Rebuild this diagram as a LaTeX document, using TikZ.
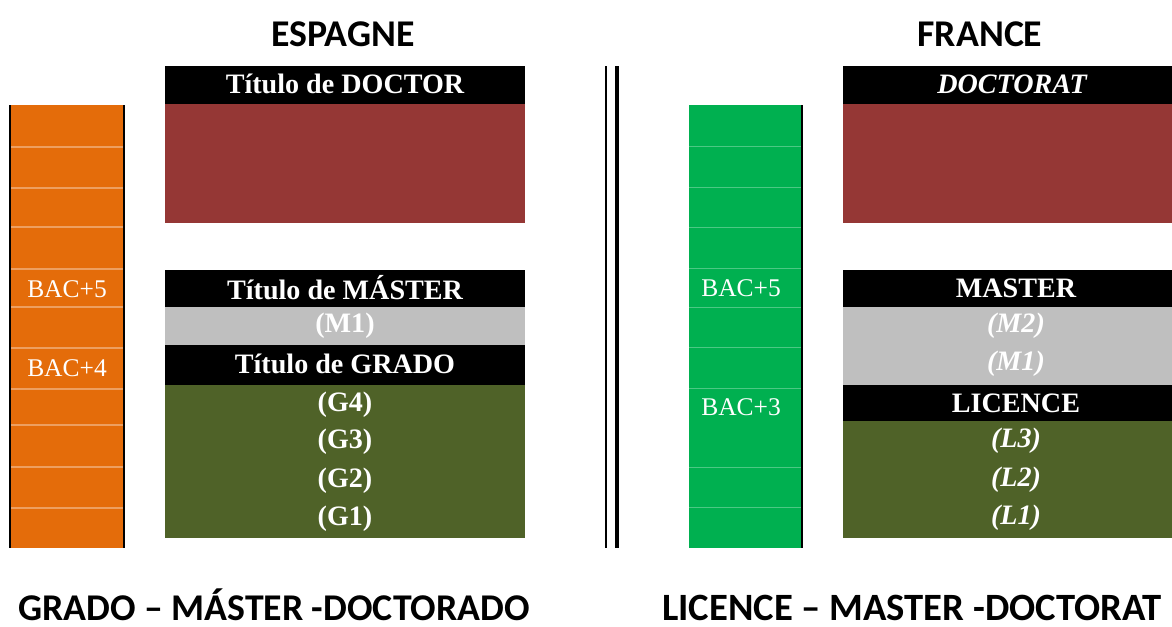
\documentclass[tikz,border=0pt]{standalone}
\usepackage{fontspec}
\setmainfont{Liberation Serif}
\newfontfamily\headfont{Carlito}
\definecolor{espcol}{HTML}{E46C0A}
\definecolor{fracol}{HTML}{00B050}
\definecolor{doccol}{HTML}{953735}
\definecolor{mascol}{HTML}{BFBFBF}
\definecolor{grecol}{HTML}{4F6228}
\begin{document}
\begin{tikzpicture}[x=0.02cm,y=-0.02cm]
	\tikzset{
		title/.style={text=white, inner sep=0pt, font=\bfseries\fontsize{16}{18}\selectfont},
		year/.style={text=white, inner sep=0pt, font=\bfseries\fontsize{16}{18}\selectfont},
		bac/.style={text=white, inner sep=0pt, font=\fontsize{14.5}{16}\selectfont},
		head/.style={inner sep=0pt, font=\headfont\bfseries\fontsize{21.5}{24}\selectfont},
		espline/.style={color=espcol!65!white, line width=0.7pt},
		fraline/.style={color=fracol!70!white, line width=0.5pt}
	}
	\useasboundingbox (0,0) rectangle (1172,626);

	% Spain column
	\fill[espcol] (10,105) rectangle (124,548);
	\draw[espline] (10,147) -- (124,147);
	\draw[espline] (10,188) -- (124,188);
	\draw[espline] (10,227) -- (124,227);
	\draw[espline] (10,269) -- (124,269);
	\draw[espline] (10,307) -- (124,307);
	\draw[espline] (10,348) -- (124,348);
	\draw[espline] (10,389) -- (124,389);
	\draw[espline] (10,425) -- (124,425);
	\draw[espline] (10,467) -- (124,467);
	\draw[espline] (10,508) -- (124,508);
	\draw[black, line width=0.6pt] (10,105) -- (10,548);
	\draw[black, line width=0.9pt] (124,105) -- (124,548);
	\node[bac] (esp5) at (67,289) {BAC+5};
	\node[bac] (esp4) at (67,368) {BAC+4};

	% Spain degrees
	\fill[black] (165,66) rectangle (525,104);
	\fill[doccol] (165,104) rectangle (525,223);
	\fill[black] (165,270) rectangle (525,307);
	\fill[mascol] (165,307) rectangle (525,345);
	\fill[black] (165,345) rectangle (525,385);
	\fill[grecol] (165,385) rectangle (525,538);
	\node[title] (espdoc) at (345,84) {Título de DOCTOR};
	\node[title] (espmas) at (345,288) {Título de MÁSTER};
	\node[year] (espm1) at (345,326) {(M1)};
	\node[title] (espgra) at (345,364) {Título de GRADO};
	\node[year] (espg4) at (345,405) {(G4)};
	\node[year] (espg3) at (345,442) {(G3)};
	\node[year] (espg2) at (345,481) {(G2)};
	\node[year] (espg1) at (345,519) {(G1)};

	% Divider
	\draw[black, line width=0.9pt] (606,66) -- (606,548);
	\draw[black, line width=1.8pt] (617,66) -- (617,548);

	% France column
	\fill[fracol] (689,105) rectangle (802,548);
	\draw[fraline] (689,146) -- (802,146);
	\draw[fraline] (689,187) -- (802,187);
	\draw[fraline] (689,227) -- (802,227);
	\draw[fraline] (689,268) -- (802,268);
	\draw[fraline] (689,307) -- (802,307);
	\draw[fraline] (689,347) -- (802,347);
	\draw[fraline] (689,388) -- (802,388);
	\draw[fraline] (689,467) -- (802,467);
	\draw[fraline] (689,507) -- (802,507);
	\draw[black, line width=0.6pt] (802,105) -- (802,548);
	\node[bac] (fra5) at (741,288) {BAC+5};
	\node[bac] (fra3) at (741,407) {BAC+3};

	% France degrees
	\fill[black] (843,66) rectangle (1172,104);
	\fill[doccol] (843,104) rectangle (1172,223);
	\fill[black] (843,270) rectangle (1172,307);
	\fill[mascol] (843,307) rectangle (1172,385);
	\fill[black] (843,385) rectangle (1172,421);
	\fill[grecol] (843,421) rectangle (1172,538);
	\node[title] (fradoc) at (1012,84) {\itshape DOCTORAT};
	\node[title] (framas) at (1016,288) {MASTER};
	\node[year] (fram2) at (1016,326) {\itshape (M2)};
	\node[year] (fram1) at (1016,364) {\itshape (M1)};
	\node[title] (fralic) at (1016,403) {LICENCE};
	\node[year] (fral3) at (1016,441) {\itshape (L3)};
	\node[year] (fral2) at (1016,480) {\itshape (L2)};
	\node[year] (fral1) at (1016,518) {\itshape (L1)};

	% Headings
	\node[head] (esp) at (343,34) {ESPAGNE};
	\node[head] (fra) at (980,34) {FRANCE};
	\node[head, anchor=base] (espsys) at (274,620) {GRADO – MÁSTER -DOCTORADO};
	\node[head, anchor=base, font=\headfont\bfseries\fontsize{22}{24}\selectfont] (frasys) at (912,620) {LICENCE – MASTER -DOCTORAT};
\end{tikzpicture}
\end{document}
